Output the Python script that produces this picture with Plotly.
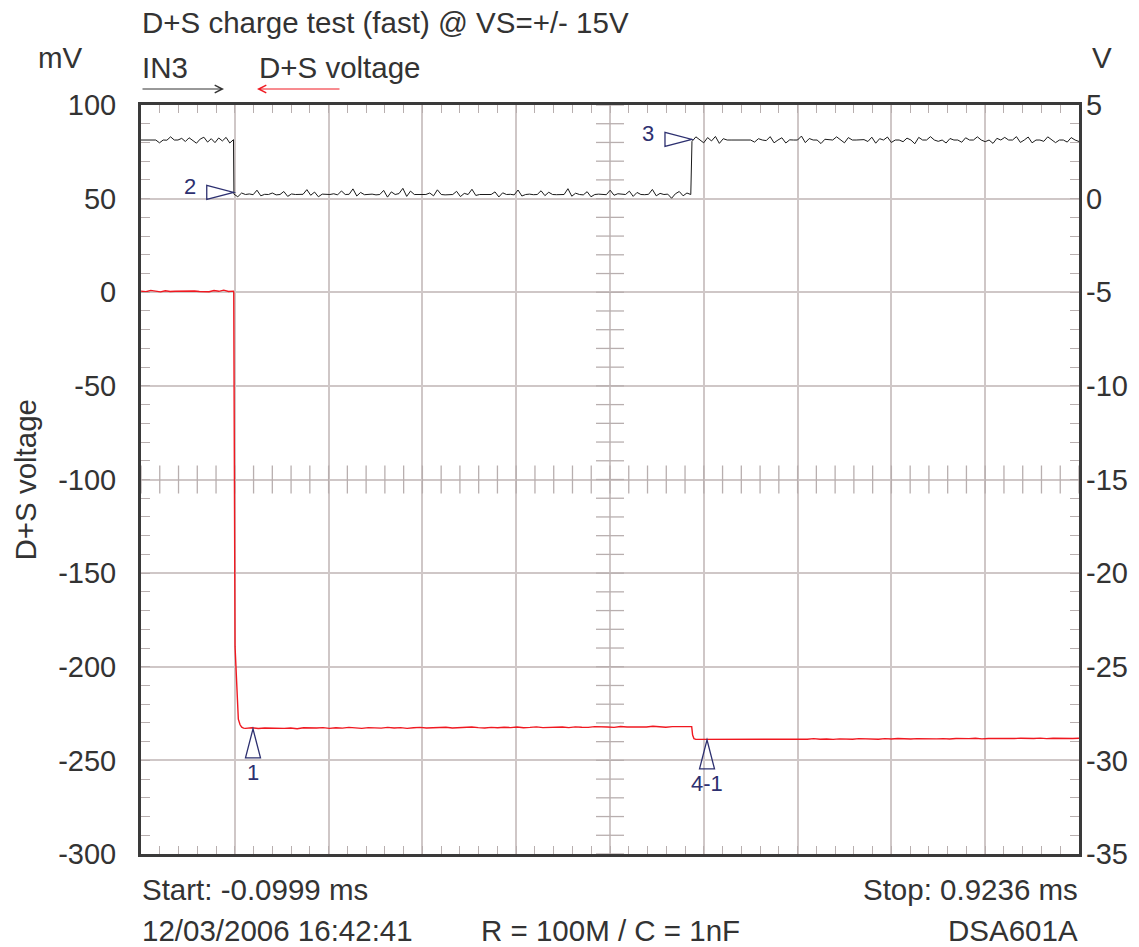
import numpy as np
import plotly.graph_objects as go

# ---------------- data ----------------
x_start = -0.0999   # ms
x_stop = 0.9236     # ms
n_div = 10

mv_ticks = [100, 50, 0, -50, -100, -150, -200, -250, -300]
v_ticks = [5, 0, -5, -10, -15, -20, -25, -30, -35]

# IN3 (V, right axis) -- three segments: high / low / high
in3_a_span = (-0.0999, 0.0010)
in3_a = [3.13, 3.13, 3.10, 3.13, 3.13, 2.98, 3.13, 3.12, 3.30, 3.13, 3.13, 3.22, 3.05,
         3.25, 3.10, 2.96, 3.18, 3.28, 3.02, 3.20, 2.99, 3.24, 3.08, 3.27, 2.97, 3.15]
in3_b_span = (0.0015, 0.5000)
in3_b = [0.24, 0.10, 0.30, 0.22, 0.25, 0.21, 0.45, 0.15, 0.23, 0.22,
         0.30, 0.20, 0.22, 0.38, 0.12, 0.25, 0.22, 0.21, 0.23, 0.48,
         0.18, 0.35, 0.10, 0.24, 0.22, 0.22, 0.26, 0.20, 0.41, 0.22,
         0.23, 0.52, 0.14, 0.33, 0.21, 0.22, 0.24, 0.20, 0.22, 0.44,
         0.08, 0.36, 0.22, 0.27, 0.55, 0.12, 0.40, 0.22, 0.21, 0.23,
         0.22, 0.30, 0.15, 0.47, 0.22, 0.20, 0.23, 0.22, 0.39, 0.11,
         0.28, 0.22, 0.50, 0.17, 0.22, 0.21, 0.24, 0.22, 0.36, 0.09,
         0.31, 0.22, 0.23, 0.20, 0.46, 0.14, 0.22, 0.24, 0.21, 0.22,
         0.42, 0.16, 0.34, 0.22, 0.21, 0.23, 0.22, 0.53, 0.13, 0.29,
         0.22, 0.20, 0.37, 0.10, 0.22, 0.24, 0.22, 0.21, 0.45, 0.18,
         0.26, 0.22, 0.22, 0.40, 0.12, 0.33, 0.22, 0.21, 0.23, 0.49,
         0.15, 0.28, 0.22, 0.24, 0.02, 0.26, 0.38, 0.15, 0.30, 0.22]
in3_c_span = (0.5013, 0.9236)
in3_c = [3.05, 3.30, 3.12, 2.98, 3.26, 3.08, 3.32, 2.95, 3.20, 3.13,
         3.13, 3.13, 3.13, 3.13, 3.13, 3.13, 3.02, 3.20, 3.13, 3.10,
         3.31, 2.98, 3.13, 3.25, 2.97, 3.14, 3.13, 3.13, 3.34, 2.99,
         3.21, 3.13, 3.13, 2.94, 3.17, 3.13, 3.13, 3.30, 3.12, 2.98,
         3.26, 3.13, 3.13, 3.13, 3.15, 3.05, 3.28, 2.96, 3.20, 3.13,
         3.29, 3.00, 3.13, 3.13, 3.04, 3.23, 3.13, 2.93, 3.27, 3.13,
         3.13, 3.31, 3.13, 3.06, 3.13, 2.97, 3.21, 3.13, 3.13, 3.01,
         3.25, 3.13, 3.13, 3.30, 3.13, 3.04, 3.13, 2.95, 3.22, 3.13,
         3.27, 3.13, 3.13, 3.31, 3.00, 3.13, 3.29, 2.98, 3.13, 3.13,
         3.06, 3.30, 3.13, 2.99, 3.13, 3.13, 3.02, 3.26, 3.13, 3.05]

# D+S voltage (mV, left axis)
ds_a_span = (-0.0999, 0.0010)
ds_a = [0.6, 0.3, 1.0, 0.5, 0.2, 0.8, 0.4, 0.5, 0.6, 0.3,
        0.5, 0.7, 0.4, 0.5, 0.3, 0.9, 0.5, 1.1, 0.4, 0.6]
ds_drop1_t = [0.0013, 0.0027, 0.0046, 0.0063, 0.0082, 0.0100, 0.0120]
ds_drop1_v = [0.0, -189.0, -207.0, -228.0, -231.0, -232.3, -232.8]
ds_b_span = (0.0140, 0.5010)
ds_b = [-232.9, -232.6, -233.0, -232.7, -232.8, -232.5, -232.9, -232.7, -233.1, -232.6,
        -232.8, -232.7, -232.5, -232.9, -232.6, -232.8, -232.4, -232.7, -232.9, -232.5,
        -232.6, -232.8, -232.4, -232.7, -232.5, -232.9, -232.6, -232.4, -232.7, -232.5,
        -232.6, -232.3, -232.7, -232.5, -232.6, -232.2, -232.5, -232.7, -232.4, -232.6,
        -232.3, -232.5, -232.2, -232.6, -232.4, -232.1, -232.5, -232.3, -232.4, -232.2,
        -232.5, -232.1, -232.3, -232.4, -232.0, -232.3, -232.2, -232.4, -231.9, -232.2,
        -232.3, -232.0, -232.2, -231.8, -232.1, -232.3, -232.0, -231.9, -232.1, -232.0]
ds_drop2_t = [0.5020, 0.5035, 0.5055]
ds_drop2_v = [-236.5, -238.4, -238.8]
ds_c_span = (0.5070, 0.9236)
ds_c = [-238.8, -238.7, -238.9, -238.6, -238.8, -238.7, -238.9, -238.5, -238.8, -238.6,
        -238.7, -238.9, -238.6, -238.7, -238.5, -238.8, -238.6, -238.7, -238.4, -238.7,
        -238.6, -238.8, -238.5, -238.6, -238.7, -238.4, -238.6, -238.5, -238.7, -238.4,
        -238.6, -238.3, -238.5, -238.6, -238.4, -238.5, -238.2, -238.5, -238.4, -238.6,
        -238.3, -238.5, -238.4, -238.2, -238.5, -238.3, -238.4, -238.1, -238.4, -238.3,
        -238.2, -238.4, -238.3, -238.1, -238.4, -238.2, -238.3, -238.1, -238.3, -238.2]

# cursors
cursor_labels = ["1", "2", "3", "4-1"]
cursor_t = [0.0223, 0.0013, 0.5013, 0.5177]
cursor_val = [-233.2, 0.33, 3.16, -239.1]
cursor_axis = ["y", "y2", "y2", "y"]
cursor_dir = ["up", "right", "right", "up"]

title_text = "D+S charge test (fast) @ VS=+/- 15V"
start_text = "Start: -0.0999 ms"
stop_text = "Stop: 0.9236 ms"
date_text = "12/03/2006 16:42:41"
rc_text = "R = 100M / C = 1nF"
scope_text = "DSA601A"

# ---------------- build ----------------
def seg(span, vals):
    return list(np.linspace(span[0], span[1], len(vals))), list(vals)

ta, va = seg(in3_a_span, in3_a)
tb, vb = seg(in3_b_span, in3_b)
tc, vc = seg(in3_c_span, in3_c)
in3_t = ta + tb + tc
in3_v = va + vb + vc

da_t, da_v = seg(ds_a_span, ds_a)
db_t, db_v = seg(ds_b_span, ds_b)
dc_t, dc_v = seg(ds_c_span, ds_c)
ds_t = da_t + ds_drop1_t + db_t + ds_drop2_t + dc_t
ds_v = da_v + ds_drop1_v + db_v + ds_drop2_v + dc_v

FONT = "Liberation Sans, Arial, sans-serif"
TXT = "#333333"
GRID = "#cfc7c7"
TICK = "#b8afaf"
NAVY = "#2d3070"
RED = "#f01820"

div = (x_stop - x_start) / n_div
major_x = [x_start + i * div for i in range(n_div + 1)]
minor_x = [x_start + i * div / 5 for i in range(n_div * 5 + 1)]
t_center = x_start + 5 * div
minor_mv = list(range(-300, 101, 10))

fig = go.Figure()

# centre cross ticks
fig.add_trace(go.Scatter(x=[t_center] * len(minor_mv), y=minor_mv, mode="markers",
                         marker=dict(symbol="line-ew", size=20, line=dict(color=TICK, width=1.3)),
                         hoverinfo="skip", showlegend=False))
fig.add_trace(go.Scatter(x=minor_x, y=[-100] * len(minor_x), mode="markers",
                         marker=dict(symbol="line-ns", size=20, line=dict(color=TICK, width=1.3)),
                         hoverinfo="skip", showlegend=False))

fig.add_trace(go.Scatter(x=ds_t, y=ds_v, mode="lines", line=dict(color=RED, width=1.4),
                         name="D+S voltage", showlegend=False))
fig.add_trace(go.Scatter(x=in3_t, y=in3_v, mode="lines", line=dict(color="#1a1a1a", width=1),
                         name="IN3", yaxis="y2", showlegend=False))

shapes = []
annotations = []
for lab, t, v, ax_, d in zip(cursor_labels, cursor_t, cursor_val, cursor_axis, cursor_dir):
    if d == "right":
        path = "M0,0 L-27,-7 L-27,7 Z"
        annotations.append(dict(x=t, y=v, xref="x", yref=ax_, text=lab, showarrow=False,
                                xshift=-44, yshift=6, font=dict(family=FONT, size=22, color=NAVY)))
    else:
        path = "M0,0 L-7.5,-29 L7.5,-29 Z"
        annotations.append(dict(x=t, y=v, xref="x", yref=ax_, text=lab, showarrow=False,
                                yshift=-44, font=dict(family=FONT, size=22, color=NAVY)))
    shapes.append(dict(type="path", xref="x", yref=ax_, xsizemode="pixel", ysizemode="pixel",
                       xanchor=t, yanchor=v, path=path, line=dict(color=NAVY, width=1.3),
                       fillcolor="rgba(255,255,255,0)", layer="above"))

big = dict(family=FONT, size=29.5, color=TXT)
tickf = dict(family=FONT, size=29, color=TXT)

def txt(text, x, y, xanchor, xshift=0, yshift=0, **kw):
    annotations.append(dict(text=text, x=x, y=y, xref="paper", yref="paper", xanchor=xanchor,
                            yanchor="middle", xshift=xshift, yshift=yshift, showarrow=False,
                            borderpad=0, font=big, **kw))

txt(title_text, 0, 1, "left", yshift=83)
txt("IN3", 0, 1, "left", yshift=38)
txt("D+S voltage", 0, 1, "left", xshift=117, yshift=38)
txt("mV", 0, 1, "left", xshift=-104, yshift=48)
txt("V", 1, 1, "center", xshift=23, yshift=48)
txt("D+S voltage", 0, 0.5, "center", xshift=-116, textangle=-90)
txt(start_text, 0, 0, "left", yshift=-35)
txt(stop_text, 1, 0, "right", yshift=-35)
txt(date_text, 0, 0, "left", yshift=-76)
txt(rc_text, 0.5, 0, "center", yshift=-76)
txt(scope_text, 1, 0, "right", yshift=-76)

# legend arrows
pw = 938.0
annotations.append(dict(x=(224 - 141) / pw, y=1, xref="paper", yref="paper", yshift=16,
                        ax=-83, ay=0, text="", showarrow=True, arrowhead=5, arrowsize=1.5,
                        arrowwidth=1, arrowcolor="#333333"))
annotations.append(dict(x=(257 - 141) / pw, y=1, xref="paper", yref="paper", yshift=16,
                        ax=84, ay=0, text="", showarrow=True, arrowhead=5, arrowsize=1.5,
                        arrowwidth=1, arrowcolor=RED))

fig.update_layout(
    width=1139, height=947, autosize=False,
    margin=dict(l=141, r=60, t=105, b=93),
    paper_bgcolor="white", plot_bgcolor="white",
    font=dict(family=FONT, size=29, color=TXT),
    showlegend=False,
    shapes=shapes, annotations=annotations,
    xaxis=dict(range=[x_start, x_stop], tickmode="array", tickvals=major_x,
               showticklabels=False, showgrid=True, gridcolor=GRID, gridwidth=1.6,
               zeroline=False, showline=True, linecolor="#3a3a3a", linewidth=3, mirror="ticks",
               ticks="inside", ticklen=8, tickcolor=TICK, tickwidth=1,
               minor=dict(tickmode="array", tickvals=minor_x, ticks="inside", ticklen=8,
                          tickcolor=TICK, tickwidth=1, showgrid=False)),
    yaxis=dict(range=[-300, 100], tickmode="array", tickvals=mv_ticks,
               ticktext=[str(v) for v in mv_ticks],
               showgrid=True, gridcolor=GRID, gridwidth=1.6, zeroline=False,
               showline=True, linecolor="#3a3a3a", linewidth=3, mirror="ticks",
               ticks="inside", ticklen=9, tickcolor=TICK, tickwidth=1,
               ticklabelstandoff=16, tickfont=tickf,
               minor=dict(dtick=10, tick0=0, ticks="inside", ticklen=9, tickcolor=TICK,
                          tickwidth=1, showgrid=False)),
    yaxis2=dict(range=[-35, 5], overlaying="y", side="right", tickmode="array",
                tickvals=v_ticks, ticktext=[str(v) for v in v_ticks],
                showgrid=False, zeroline=False, showline=False,
                ticks="", ticklabelstandoff=6, tickfont=tickf),
)

fig.write_html("out.html", config={"displayModeBar": False},
               post_script="document.body.style.margin='0px';document.body.style.overflow='hidden';")
